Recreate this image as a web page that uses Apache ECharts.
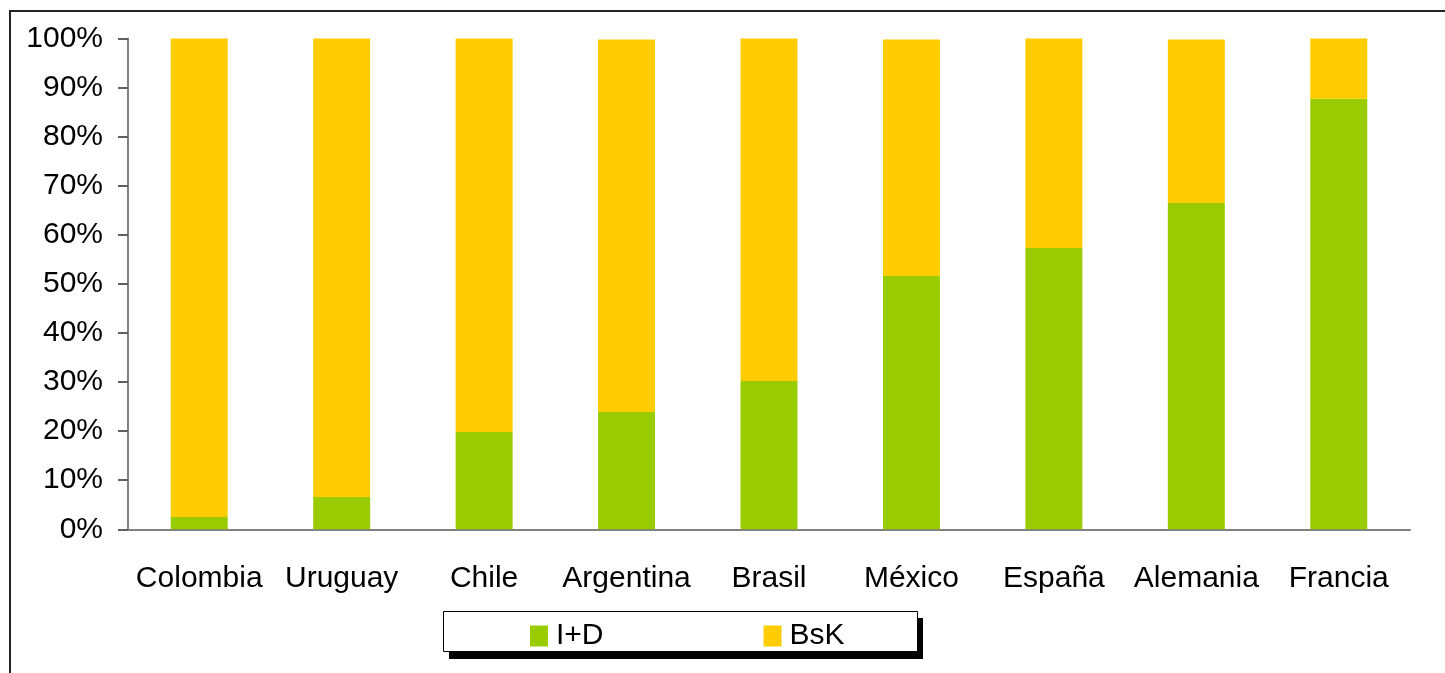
<!DOCTYPE html>
<html>
<head>
<meta charset="utf-8">
<script src="https://cdn.jsdelivr.net/npm/echarts@6/dist/echarts.min.js"></script>
<style>
  html, body { margin: 0; padding: 0; background: #fff; }
  #chart { width: 1445px; height: 673px; }
</style>
</head>
<body>
<div id="chart"></div>
<script>
// datos (porcentaje)
const paises = ['Colombia', 'Uruguay', 'Chile', 'Argentina', 'Brasil', 'México', 'España', 'Alemania', 'Francia']
const iyd = [2.5, 6.6, 19.8, 23.9, 30.2, 51.6, 57.3, 66.5, 87.7]
const bsk = [97.5, 93.4, 80.2, 75.9, 69.8, 48.2, 42.7, 33.3, 12.3]

const font = 'Liberation Sans, Arial, sans-serif'

const chart = echarts.init(document.getElementById('chart'))

chart.setOption({
  animation: false,
  backgroundColor: '#fff',
  color: ['#99cc00', '#ffcc00'],
  grid: {
    left: 128,
    right: 35,
    top: 38.5,
    bottom: 143.7
  },
  graphic: [
    // marco exterior
    {
      type: 'rect',
      shape: { x: 10, y: 11, width: 1500, height: 700 },
      style: { fill: 'none', stroke: '#222', lineWidth: 2 },
      z: 0
    },
    // sombra de la leyenda
    {
      type: 'rect',
      shape: { x: 449, y: 618, width: 474, height: 41 },
      style: { fill: '#000' },
      z: 1
    },
    {
      type: 'rect',
      shape: { x: 443.5, y: 611.5, width: 474, height: 40 },
      style: { fill: '#fff', stroke: '#000', lineWidth: 1 },
      z: 2
    }
  ],
  legend: {
    left: 525,
    top: 616,
    icon: 'rect',
    itemWidth: 18,
    itemHeight: 21,
    itemGap: 160,
    z: 10,
    textStyle: { fontFamily: font, fontSize: 30, color: '#000', padding: [0, 0, 0, 3] },
    data: ['I+D', 'BsK']
  },
  xAxis: {
    type: 'category',
    data: paises,
    axisLine: { lineStyle: { color: '#808080', width: 2 } },
    axisTick: { length: 10, lineStyle: { color: '#606060', width: 2 } },
    axisLabel: {
      margin: 34,
      fontFamily: font,
      fontSize: 30,
      color: '#000',
      interval: 0
    }
  },
  yAxis: {
    type: 'value',
    min: 0,
    max: 100,
    interval: 10,
    splitLine: { show: false },
    axisLine: { show: true, lineStyle: { color: '#808080', width: 2 } },
    axisTick: { show: true, length: 10, lineStyle: { color: '#606060', width: 2 } },
    axisLabel: {
      margin: 25,
      fontFamily: font,
      fontSize: 30,
      color: '#000',
      formatter: '{value}%'
    }
  },
  series: [{
    name: 'I+D',
    type: 'bar',
    stack: 'total',
    data: iyd,
    barCategoryGap: '60%'
  }, {
    name: 'BsK',
    type: 'bar',
    stack: 'total',
    data: bsk,
    barCategoryGap: '60%'
  }]
})
</script>
</body>
</html>
